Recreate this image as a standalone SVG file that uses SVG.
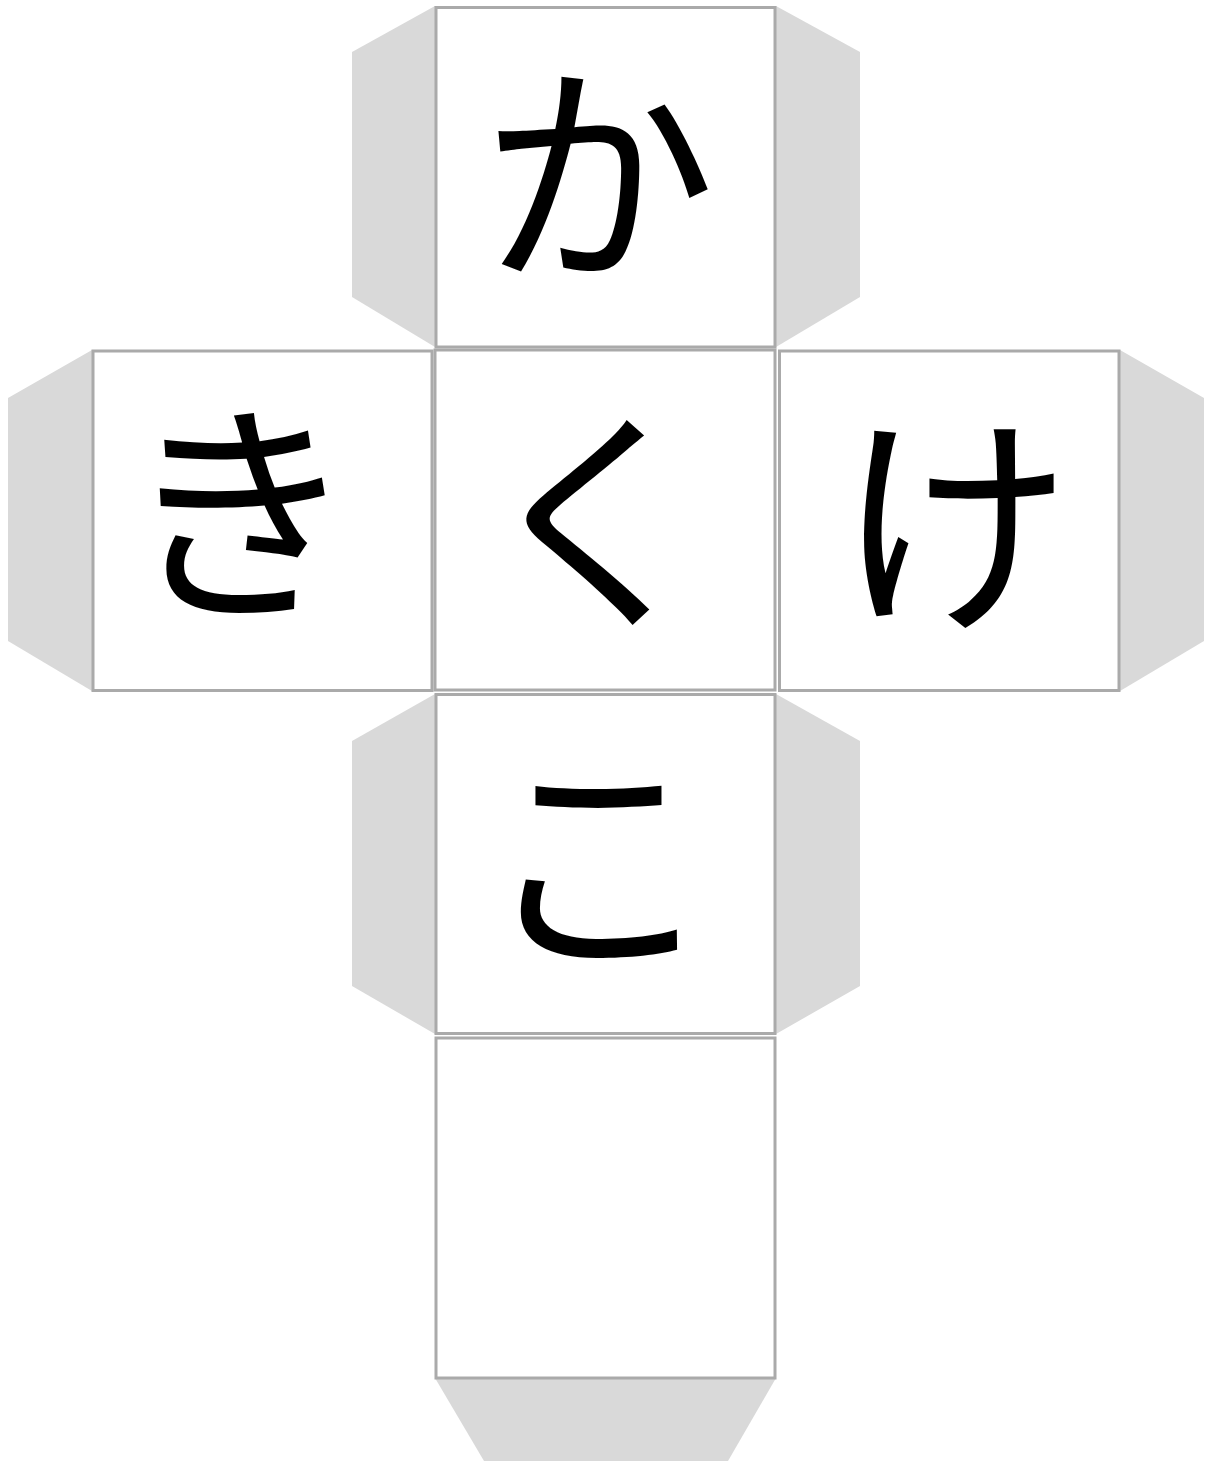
<svg xmlns="http://www.w3.org/2000/svg" width="1208" height="1461" viewBox="0 0 1208 1461">
<style>
.tab{fill:#d9d9d9;stroke:none}
.face{fill:#ffffff;stroke:#aaaaaa;stroke-width:3}
.ch{font-family:"Noto Sans CJK JP","Noto Sans CJK SC",sans-serif;font-size:236px;fill:#000;text-anchor:middle}
</style>
<rect width="1208" height="1461" fill="#ffffff"/>
<g id="tabs">
<polygon class="tab" points="435,6 352,52 352,297 435,347"/>
<polygon class="tab" points="776,6 860,52 860,297 776,347"/>
<polygon class="tab" points="92,350 8,398 8,641 92,691"/>
<polygon class="tab" points="1120,350 1204,398 1204,641 1120,691"/>
<polygon class="tab" points="435,694 352,741 352,986 435,1034"/>
<polygon class="tab" points="776,694 860,741 860,986 776,1034"/>
<polygon class="tab" points="435,1378 484,1461 728,1461 776,1378"/>
</g>
<g id="face-ka">
<rect class="face" x="436" y="7.5" width="339" height="339.5"/>
<text class="ch" x="598" y="264">か</text>
</g>
<g id="face-ki">
<rect class="face" x="93" y="351" width="339" height="339.5"/>
<text class="ch" x="240" y="602">き</text>
</g>
<g id="face-ku">
<rect class="face" x="435" y="350" width="340" height="340"/>
<text class="ch" x="596" y="610">く</text>
</g>
<g id="face-ke">
<rect class="face" x="779.5" y="351" width="339.5" height="339.5"/>
<text class="ch" x="954" y="614">け</text>
</g>
<g id="face-ko">
<rect class="face" x="436" y="694.5" width="339" height="339"/>
<text class="ch" x="598" y="952">こ</text>
</g>
<g id="face-blank">
<rect class="face" x="436" y="1038" width="339" height="340"/>
</g>
<g id="connectors"></g>
</svg>
